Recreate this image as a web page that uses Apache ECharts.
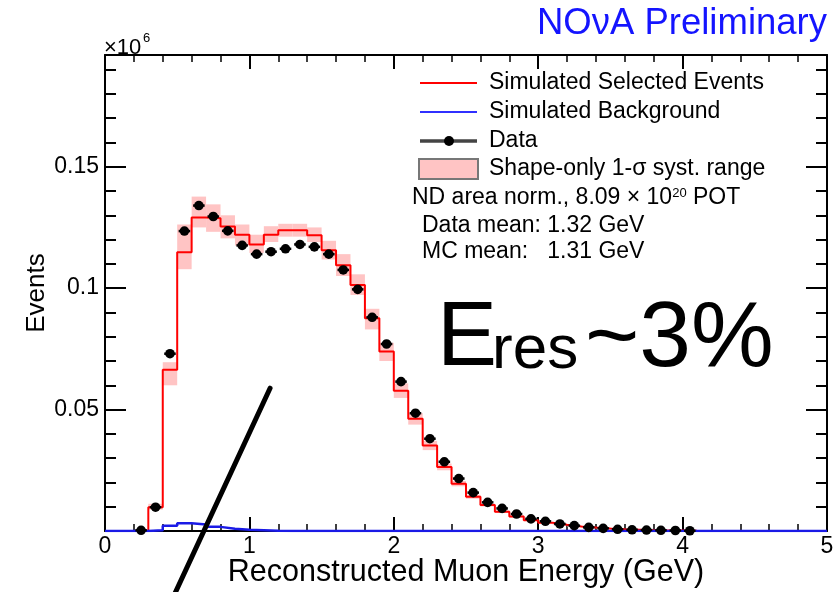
<!DOCTYPE html>
<html>
<head>
<meta charset="utf-8">
<script src="https://cdn.jsdelivr.net/npm/echarts@6/dist/echarts.min.js"></script>
<style>
  html, body { margin: 0; padding: 0; background: #ffffff; }
  #chart { width: 838px; height: 592px; }
</style>
</head>
<body>
<div id="chart"></div>
<script>
// Muon energy histogram, 0.1 GeV bins (lower edges), events in units of 10^6
const binLow = [0.2, 0.3, 0.4, 0.5, 0.6, 0.7, 0.8, 0.9, 1.0, 1.1, 1.2, 1.3, 1.4, 1.5, 1.6, 1.7, 1.8, 1.9,
  2.0, 2.1, 2.2, 2.3, 2.4, 2.5, 2.6, 2.7, 2.8, 2.9, 3.0, 3.1, 3.2, 3.3, 3.4, 3.5, 3.6, 3.7, 3.8, 3.9, 4.0];
const binWidth = 0.1;

const dataEvents = [0.0003, 0.0098, 0.0730, 0.1235, 0.1340, 0.1295, 0.1236, 0.1176, 0.1140, 0.1150,
  0.1162, 0.1180, 0.1170, 0.1140, 0.1075, 0.0995, 0.0880, 0.0770, 0.0615, 0.0485, 0.0380, 0.0285,
  0.0216, 0.0158, 0.0118, 0.0093, 0.0070, 0.0050, 0.0040, 0.0029, 0.0022, 0.0015, 0.0011, 0.0007,
  0.0005, 0.0004, 0.0003, 0.0002, 0.0001];

const mcSelected = [0.0, 0.0098, 0.0664, 0.1148, 0.1291, 0.1288, 0.1254, 0.1220, 0.1180, 0.1220,
  0.1238, 0.1238, 0.1218, 0.1156, 0.1094, 0.1013, 0.0876, 0.0739, 0.0578, 0.0462, 0.0352, 0.0264,
  0.0195, 0.0141, 0.0107, 0.0079, 0.0060, 0.0044, 0.0034, 0.0026, 0.0019, 0.0014, 0.0010, 0.0007,
  0.0005, 0.0003, 0.0002, 0.0002, 0.0001];

const mcBackground = [0.0, 0.0003, 0.0022, 0.0032, 0.0027, 0.0017, 0.0009, 0.0005, 0.0003, 0.0001,
  0, 0, 0, 0, 0, 0, 0, 0, 0, 0, 0, 0, 0, 0, 0, 0, 0, 0, 0, 0, 0, 0, 0, 0, 0, 0, 0, 0, 0];

// Shape-only 1-sigma systematic range per bin
const systLow = [0.0, 0.0088, 0.0600, 0.1078, 0.1250, 0.1232, 0.1205, 0.1175, 0.1145, 0.1190,
  0.1212, 0.1212, 0.1190, 0.1118, 0.1050, 0.0972, 0.0830, 0.0700, 0.0548, 0.0438, 0.0333, 0.0250,
  0.0184, 0.0133, 0.0101, 0.0074, 0.0056, 0.0041, 0.0032, 0.0024, 0.0018, 0.0013, 0.0009, 0.0006,
  0.0004, 0.0003, 0.0002, 0.0002, 0.0001];
const systHigh = [0.0, 0.0112, 0.0695, 0.1262, 0.1377, 0.1345, 0.1300, 0.1262, 0.1220, 0.1255,
  0.1265, 0.1265, 0.1250, 0.1195, 0.1140, 0.1057, 0.0915, 0.0775, 0.0608, 0.0486, 0.0371, 0.0278,
  0.0206, 0.0149, 0.0113, 0.0084, 0.0064, 0.0047, 0.0036, 0.0028, 0.0020, 0.0015, 0.0011, 0.0008,
  0.0006, 0.0003, 0.0002, 0.0002, 0.0001];

const xTickLabels = [0, 1, 2, 3, 4, 5];
const yTickLabels = [0.05, 0.1, 0.15];
const yMinorTicks = [0.01, 0.02, 0.03, 0.04, 0.05, 0.06, 0.07, 0.08, 0.09, 0.10,
  0.11, 0.12, 0.13, 0.14, 0.15, 0.16, 0.17, 0.18, 0.19];

// Hand-drawn pointer stroke, in axis units (GeV, 10^6 events)
const pointerX = [1.143, 0.464];
const pointerY = [0.0588, -0.0283];

const FONT = '"Liberation Sans", Arial, Helvetica, sans-serif';
const X_MAX = 5;
const Y_MAX = 0.196;

function histOutline(values) {
  const pts = [[0, 0]];
  binLow.forEach((lo, i) => {
    pts.push([lo, values[i]]);
    pts.push([lo + binWidth, values[i]]);
  });
  pts.push([binLow[binLow.length - 1] + binWidth, 0]);
  pts.push([X_MAX, 0]);
  return pts;
}

const chart = echarts.init(document.getElementById('chart'), null, { renderer: 'canvas' });

const tickLine = { color: '#000', width: 2 };

function xAxisDef(pos, withLabels) {
  return {
    type: 'value', position: pos, min: 0, max: X_MAX, interval: 1,
    axisLine: { show: true, onZero: false, lineStyle: { color: '#000', width: 2 } },
    axisTick: { show: true, inside: true, length: 14, lineStyle: tickLine },
    minorTick: { show: true, splitNumber: 5, length: 7, lineStyle: { color: '#000', width: 1.5 } },
    splitLine: { show: false },
    axisLabel: withLabels ? {
      show: true, customValues: xTickLabels, fontSize: 23, fontFamily: FONT, color: '#000', margin: 4
    } : { show: false },
    name: withLabels ? 'Reconstructed Muon Energy (GeV)' : '',
    nameLocation: 'middle', nameGap: 26, nameMoveOverlap: false,
    nameTextStyle: { fontSize: 30.5, fontFamily: FONT, color: '#000' }
  };
}

function yAxisDef(pos, major, withLabels) {
  return {
    type: 'value', position: pos, min: 0, max: Y_MAX,
    axisLine: { show: !major, onZero: false, lineStyle: { color: '#000', width: 2 } },
    axisTick: {
      show: true, inside: true, length: major ? 21 : 11,
      customValues: major ? yTickLabels : yMinorTicks, lineStyle: tickLine
    },
    splitLine: { show: false },
    axisLabel: withLabels ? {
      show: true, customValues: yTickLabels, fontSize: 23, fontFamily: FONT, color: '#000', margin: 6
    } : { show: false },
    name: withLabels ? 'Events' : '',
    nameLocation: 'middle', nameGap: 55, nameRotate: 90, nameMoveOverlap: false,
    nameTextStyle: { fontSize: 26, fontFamily: FONT, color: '#000' }
  };
}

const textBase = { fontFamily: FONT, fill: '#000', verticalAlign: 'middle' };

const option = {
  animation: false,
  backgroundColor: '#ffffff',
  grid: { left: 105, right: 11, top: 55, bottom: 61, containLabel: false, outerBoundsMode: 'none' },
  xAxis: [xAxisDef('bottom', true), xAxisDef('top', false)],
  yAxis: [
    yAxisDef('left', false, true), yAxisDef('left', true, false),
    yAxisDef('right', false, false), yAxisDef('right', true, false)
  ],
  series: [
    {
      name: 'Shape-only 1-σ syst. range', type: 'custom', z: 1, silent: true,
      data: binLow.map((lo, i) => [lo, systLow[i], systHigh[i]]),
      renderItem(params, api) {
        const lo = api.value(0);
        const pTop = api.coord([lo, api.value(2)]);
        const pBot = api.coord([lo + binWidth, api.value(1)]);
        return {
          type: 'rect',
          shape: { x: pTop[0], y: pTop[1], width: pBot[0] - pTop[0], height: pBot[1] - pTop[1] },
          style: { fill: '#ffc4c4' }
        };
      }
    },
    {
      name: 'Simulated Selected Events', type: 'line', z: 3, silent: true,
      data: histOutline(mcSelected), symbol: 'none',
      lineStyle: { color: '#ff0000', width: 2 }
    },
    {
      name: 'Simulated Background', type: 'line', z: 4, silent: true,
      data: histOutline(mcBackground), symbol: 'none',
      lineStyle: { color: '#1a1ae6', width: 2.5 }
    },
    {
      name: 'Data', type: 'custom', z: 5, silent: true,
      data: binLow.map((lo, i) => [lo, dataEvents[i]]),
      renderItem(params, api) {
        const lo = api.value(0);
        const v = api.value(1);
        const left = api.coord([lo + 0.01, v]);
        const right = api.coord([lo + binWidth - 0.01, v]);
        const mid = api.coord([lo + binWidth / 2, v]);
        return {
          type: 'group',
          children: [
            { type: 'line', shape: { x1: left[0], y1: left[1], x2: right[0], y2: right[1] },
              style: { stroke: '#000', lineWidth: 2.5 } },
            { type: 'circle', shape: { cx: mid[0], cy: mid[1], r: 4.8 }, style: { fill: '#000' } }
          ]
        };
      }
    },
    {
      name: 'pointer', type: 'line', z: 10, silent: true, clip: false,
      data: pointerX.map((x, i) => [x, pointerY[i]]), symbol: 'none',
      lineStyle: { color: '#000', width: 5, cap: 'round' }
    }
  ],
  graphic: [
    { type: 'text', x: 827, y: 24,
      style: Object.assign({}, textBase, { text: 'NOνA Preliminary', fontSize: 36.5, fill: '#1414ff', align: 'right' }) },
    { type: 'text', x: 104, y: 48, style: Object.assign({}, textBase, { text: '×10', fontSize: 22 }) },
    { type: 'text', x: 143, y: 38, style: Object.assign({}, textBase, { text: '6', fontSize: 13 }) },

    // legend
    { type: 'line', shape: { x1: 420, y1: 83, x2: 477, y2: 83 }, style: { stroke: '#ff0000', lineWidth: 2 } },
    { type: 'text', x: 489, y: 83, style: Object.assign({}, textBase, { text: 'Simulated Selected Events', fontSize: 23 }) },
    { type: 'line', shape: { x1: 420, y1: 112, x2: 477, y2: 112 }, style: { stroke: '#3030ff', lineWidth: 2 } },
    { type: 'text', x: 489, y: 112, style: Object.assign({}, textBase, { text: 'Simulated Background', fontSize: 23 }) },
    { type: 'line', shape: { x1: 420, y1: 141, x2: 477, y2: 141 }, style: { stroke: '#444', lineWidth: 3.5 } },
    { type: 'circle', shape: { cx: 449, cy: 141, r: 5 }, style: { fill: '#000' } },
    { type: 'text', x: 489, y: 141, style: Object.assign({}, textBase, { text: 'Data', fontSize: 23 }) },
    { type: 'rect', shape: { x: 419, y: 159, width: 59, height: 20 }, style: { fill: '#ffc4c4', stroke: '#777', lineWidth: 2 } },
    { type: 'text', x: 489, y: 169, style: Object.assign({}, textBase, { text: 'Shape-only 1-σ syst. range', fontSize: 23 }) },

    // normalisation and means
    { type: 'text', x: 412, y: 198,
      style: Object.assign({}, textBase, {
        text: 'ND area norm., 8.09 × 10{sup|20} POT', fontSize: 23,
        rich: { sup: { fontSize: 13, verticalAlign: 'top', fontFamily: FONT, fill: '#000' } }
      }) },
    { type: 'text', x: 422, y: 226, style: Object.assign({}, textBase, { text: 'Data mean: 1.32 GeV', fontSize: 23 }) },
    { type: 'text', x: 422, y: 252, style: Object.assign({}, textBase, { text: 'MC mean:   1.31 GeV', fontSize: 23 }) },

    // energy resolution callout
    { type: 'text', x: 437, y: 340.5, style: Object.assign({}, textBase, { text: 'E', fontSize: 90 }) },
    { type: 'text', x: 492, y: 350.5, style: Object.assign({}, textBase, { text: 'res', fontSize: 62 }) },
    { type: 'text', x: 585, y: 340, style: Object.assign({}, textBase, { text: '~3%', fontSize: 93 }) }
  ]
};

chart.setOption(option);
</script>
</body>
</html>
